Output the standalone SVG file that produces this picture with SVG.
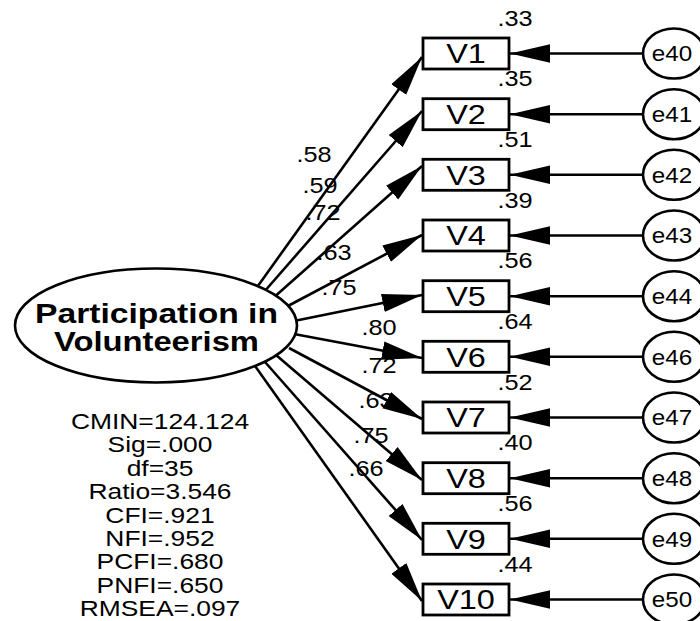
<svg xmlns="http://www.w3.org/2000/svg" width="700" height="621" viewBox="0 0 700 621">
<defs>
<style>
text{font-family:"Liberation Sans",Arial,sans-serif;fill:#000}
.w{font-size:22px;text-anchor:middle}
.v{font-size:27px;text-anchor:middle}
.e{font-size:22px;text-anchor:middle}
.t{font-size:28px;font-weight:bold;text-anchor:middle}
.s{font-size:22px;text-anchor:middle}
.ln{stroke:#000;stroke-width:2.6;fill:none;marker-end:url(#arr)}
.box{fill:#fff;stroke:#000;stroke-width:2.8}
.ell{fill:#fff;stroke:#000;stroke-width:2.6}
</style>
<marker id="arr" viewBox="0 0 40 20" refX="40" refY="10" markerWidth="40" markerHeight="20" markerUnits="userSpaceOnUse" orient="auto">
<path d="M0,0.8 L40,10 L0,19.2 z" fill="#000"/>
</marker>
</defs>
<rect width="700" height="621" fill="#fff"/>

<g id="weight-labels">
<text class="w" transform="translate(314,162) scale(1.15,1)">.58</text>
<text class="w" transform="translate(320,193) scale(1.15,1)">.59</text>
<text class="w" transform="translate(323,220) scale(1.15,1)">.72</text>
<text class="w" transform="translate(334,260) scale(1.15,1)">.63</text>
<text class="w" transform="translate(339,295) scale(1.15,1)">.75</text>
<text class="w" transform="translate(379,335) scale(1.15,1)">.80</text>
<text class="w" transform="translate(379,373) scale(1.15,1)">.72</text>
<text class="w" transform="translate(376,408) scale(1.15,1)">.63</text>
<text class="w" transform="translate(371,443) scale(1.15,1)">.75</text>
<text class="w" transform="translate(366,476) scale(1.15,1)">.66</text>
</g>

<g id="connectors">
<line class="ln" x1="255" y1="290" x2="422" y2="57"/>
<line class="ln" x1="264" y1="292" x2="422" y2="111"/>
<line class="ln" x1="272" y1="299" x2="422" y2="166"/>
<line class="ln" x1="286" y1="307" x2="422" y2="235"/>
<line class="ln" x1="294" y1="321" x2="422" y2="295"/>
<line class="ln" x1="294" y1="334" x2="422" y2="358"/>
<line class="ln" x1="289" y1="348" x2="422" y2="419"/>
<line class="ln" x1="276" y1="355" x2="422" y2="480"/>
<line class="ln" x1="265" y1="362" x2="422" y2="540"/>
<line class="ln" x1="255" y1="366" x2="422" y2="601"/>
<line class="ln" x1="643" y1="53.5" x2="510" y2="53.5"/>
<line class="ln" x1="643" y1="114.2" x2="510" y2="114.2"/>
<line class="ln" x1="643" y1="174.8" x2="510" y2="174.8"/>
<line class="ln" x1="643" y1="235.5" x2="510" y2="235.5"/>
<line class="ln" x1="643" y1="296.2" x2="510" y2="296.2"/>
<line class="ln" x1="643" y1="356.8" x2="510" y2="356.8"/>
<line class="ln" x1="643" y1="417.5" x2="510" y2="417.5"/>
<line class="ln" x1="643" y1="478.2" x2="510" y2="478.2"/>
<line class="ln" x1="643" y1="538.8" x2="510" y2="538.8"/>
<line class="ln" x1="643" y1="599.5" x2="510" y2="599.5"/>
</g>

<g id="latent">
<ellipse class="ell" cx="156" cy="325.5" rx="141" ry="57"/>
<text class="t" x="156.5" y="322.5" textLength="243" lengthAdjust="spacingAndGlyphs">Participation in</text>
<text class="t" x="156.5" y="351" textLength="205" lengthAdjust="spacingAndGlyphs">Volunteerism</text>
</g>

<g id="V1"><rect class="box" x="423" y="38" width="86" height="31"/><text class="v" transform="translate(466,63.2) scale(1.2,1)">V1</text><text class="w" transform="translate(515,25.5) scale(1.15,1)">.33</text></g>
<g id="V2"><rect class="box" x="423" y="98.7" width="86" height="31"/><text class="v" transform="translate(466,123.9) scale(1.2,1)">V2</text><text class="w" transform="translate(515,86.2) scale(1.15,1)">.35</text></g>
<g id="V3"><rect class="box" x="423" y="159.3" width="86" height="31"/><text class="v" transform="translate(466,184.5) scale(1.2,1)">V3</text><text class="w" transform="translate(515,146.8) scale(1.15,1)">.51</text></g>
<g id="V4"><rect class="box" x="423" y="220" width="86" height="31"/><text class="v" transform="translate(466,245.2) scale(1.2,1)">V4</text><text class="w" transform="translate(515,207.5) scale(1.15,1)">.39</text></g>
<g id="V5"><rect class="box" x="423" y="280.7" width="86" height="31"/><text class="v" transform="translate(466,305.9) scale(1.2,1)">V5</text><text class="w" transform="translate(515,268.2) scale(1.15,1)">.56</text></g>
<g id="V6"><rect class="box" x="423" y="341.3" width="86" height="31"/><text class="v" transform="translate(466,366.5) scale(1.2,1)">V6</text><text class="w" transform="translate(515,328.8) scale(1.15,1)">.64</text></g>
<g id="V7"><rect class="box" x="423" y="402" width="86" height="31"/><text class="v" transform="translate(466,427.2) scale(1.2,1)">V7</text><text class="w" transform="translate(515,389.5) scale(1.15,1)">.52</text></g>
<g id="V8"><rect class="box" x="423" y="462.7" width="86" height="31"/><text class="v" transform="translate(466,487.9) scale(1.2,1)">V8</text><text class="w" transform="translate(515,450.2) scale(1.15,1)">.40</text></g>
<g id="V9"><rect class="box" x="423" y="523.3" width="86" height="31"/><text class="v" transform="translate(466,548.5) scale(1.2,1)">V9</text><text class="w" transform="translate(515,510.8) scale(1.15,1)">.56</text></g>
<g id="V10"><rect class="box" x="423" y="584" width="86" height="31"/><text class="v" transform="translate(466,609.2) scale(1.2,1)">V10</text><text class="w" transform="translate(515,571.5) scale(1.15,1)">.44</text></g>

<g id="e40"><ellipse class="ell" cx="674" cy="53.5" rx="31" ry="25"/><text class="e" transform="translate(672,61.3) scale(1.1,1)">e40</text></g>
<g id="e41"><ellipse class="ell" cx="674" cy="114.2" rx="31" ry="25"/><text class="e" transform="translate(672,122) scale(1.1,1)">e41</text></g>
<g id="e42"><ellipse class="ell" cx="674" cy="174.8" rx="31" ry="25"/><text class="e" transform="translate(672,182.6) scale(1.1,1)">e42</text></g>
<g id="e43"><ellipse class="ell" cx="674" cy="235.5" rx="31" ry="25"/><text class="e" transform="translate(672,243.3) scale(1.1,1)">e43</text></g>
<g id="e44"><ellipse class="ell" cx="674" cy="296.2" rx="31" ry="25"/><text class="e" transform="translate(672,304) scale(1.1,1)">e44</text></g>
<g id="e46"><ellipse class="ell" cx="674" cy="356.8" rx="31" ry="25"/><text class="e" transform="translate(672,364.6) scale(1.1,1)">e46</text></g>
<g id="e47"><ellipse class="ell" cx="674" cy="417.5" rx="31" ry="25"/><text class="e" transform="translate(672,425.3) scale(1.1,1)">e47</text></g>
<g id="e48"><ellipse class="ell" cx="674" cy="478.2" rx="31" ry="25"/><text class="e" transform="translate(672,486) scale(1.1,1)">e48</text></g>
<g id="e49"><ellipse class="ell" cx="674" cy="538.8" rx="31" ry="25"/><text class="e" transform="translate(672,546.6) scale(1.1,1)">e49</text></g>
<g id="e50"><ellipse class="ell" cx="674" cy="599.5" rx="31" ry="25"/><text class="e" transform="translate(672,607.3) scale(1.1,1)">e50</text></g>

<g id="fit-stats" transform="translate(160,0) scale(1.2,1)">
<text class="s" x="0" y="429">CMIN=124.124</text>
<text class="s" x="0" y="452.4">Sig=.000</text>
<text class="s" x="0" y="475.8">df=35</text>
<text class="s" x="0" y="499.2">Ratio=3.546</text>
<text class="s" x="0" y="522.6">CFI=.921</text>
<text class="s" x="0" y="546">NFI=.952</text>
<text class="s" x="0" y="569.4">PCFI=.680</text>
<text class="s" x="0" y="592.8">PNFI=.650</text>
<text class="s" x="0" y="616.2">RMSEA=.097</text>
</g>
</svg>
